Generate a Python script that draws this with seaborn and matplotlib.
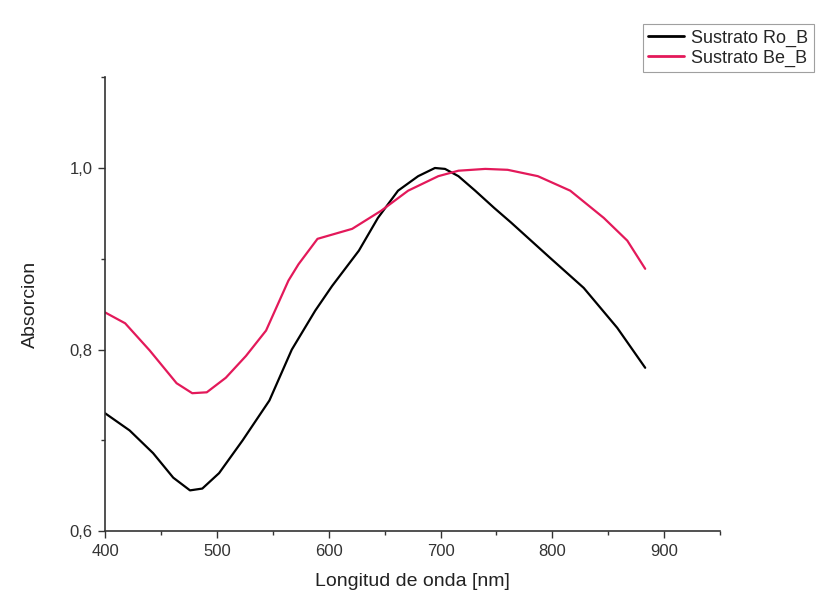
import numpy as np
import pandas as pd
import matplotlib
matplotlib.use("Agg")
import matplotlib.pyplot as plt
from matplotlib.ticker import MultipleLocator, FuncFormatter
from matplotlib.lines import Line2D
import seaborn as sns

# valores
wl_ro = [400, 422, 443, 461, 476, 487, 502, 523, 547, 567, 588, 603, 627, 644, 662,
         680, 695, 704, 716, 731, 748, 763, 798, 828, 858, 883]
abs_ro = [0.730, 0.711, 0.686, 0.659, 0.645, 0.647, 0.664, 0.700, 0.744, 0.800, 0.843,
          0.870, 0.909, 0.945, 0.975, 0.991, 1.000, 0.999, 0.991, 0.975, 0.956, 0.940,
          0.901, 0.868, 0.824, 0.780]

wl_be = [400, 418, 440, 464, 478, 491, 508, 526, 544, 564, 573, 590, 621, 647, 671,
         698, 716, 740, 760, 787, 816, 846, 867, 883]
abs_be = [0.841, 0.829, 0.799, 0.763, 0.752, 0.753, 0.769, 0.793, 0.821, 0.876, 0.894,
          0.922, 0.933, 0.953, 0.975, 0.991, 0.997, 0.999, 0.998, 0.991, 0.975, 0.945,
          0.920, 0.889]

labels = ["Sustrato Ro_B", "Sustrato Be_B"]
colors = ["black", "#e3195a"]

df = pd.concat([
    pd.DataFrame({"wl": wl_ro, "abs": abs_ro, "serie": labels[0]}),
    pd.DataFrame({"wl": wl_be, "abs": abs_be, "serie": labels[1]}),
])

sns.set_style("ticks")
plt.rcParams['font.family'] = ['Liberation Sans', 'DejaVu Sans']

fig = plt.figure(figsize=(8.23, 6.03), dpi=100)
ax = fig.add_axes([0.1276, 0.119, 0.7474, 0.753])

sns.lineplot(data=df, x="wl", y="abs", hue="serie", sort=False,
             palette=colors, linewidth=1.6, ax=ax, legend=False)

ax.set_xlim(400, 950)
ax.set_ylim(0.6, 1.1)
ax.xaxis.set_major_locator(MultipleLocator(100))
ax.xaxis.set_minor_locator(MultipleLocator(50))
ax.yaxis.set_major_locator(MultipleLocator(0.2))
ax.yaxis.set_minor_locator(MultipleLocator(0.1))
ax.yaxis.set_major_formatter(FuncFormatter(lambda v, p: f"{v:.1f}".replace(".", ",")))
ax.tick_params(which="major", direction="out", length=5, width=1, labelsize=12,
               colors="#333333", pad=4)
ax.tick_params(which="minor", direction="out", length=3, width=1, colors="#333333")
ax.set_xlabel("Longitud de onda [nm]", fontsize=14, color="#222222", labelpad=10)
ax.set_ylabel("Absorcion", fontsize=14, color="#222222", labelpad=22)
for s in ["left", "bottom"]:
    ax.spines[s].set_color("#333333")
    ax.spines[s].set_linewidth(1.2)
sns.despine(ax=ax)

handles = [Line2D([], [], color=c, lw=2) for c in colors]
leg = fig.legend(handles, labels, loc="upper right", bbox_to_anchor=(1.0, 0.975),
                 fontsize=13, frameon=True, fancybox=False, handlelength=2.0,
                 borderpad=0.3, labelspacing=0.15, handletextpad=0.4)
leg.get_frame().set_edgecolor("#888888")
leg.get_frame().set_linewidth(0.8)

fig.savefig("out.png", dpi=100)
